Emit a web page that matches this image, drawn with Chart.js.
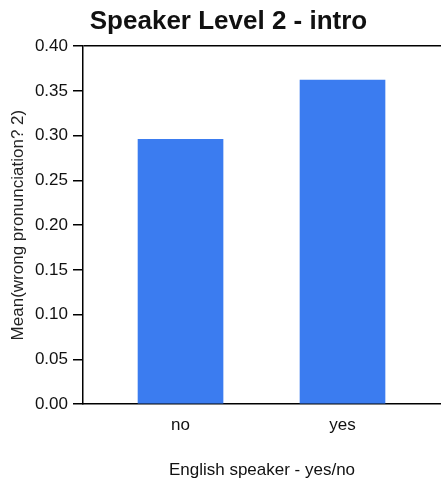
<!DOCTYPE html>
<html>
<head>
<meta charset="utf-8">
<script src="https://cdn.jsdelivr.net/npm/chart.js@4/dist/chart.umd.min.js"></script>
<style>
  html, body { margin: 0; padding: 0; background: #fff; }
  #wrap { width: 441px; height: 485px; }
</style>
</head>
<body>
<div id="wrap"><canvas id="c" width="441" height="485"></canvas></div>
<script>
const chartTitle = 'Speaker Level 2 - intro';
const categories = ['no', 'yes'];
const meanValues = [0.296, 0.362];
const yTickValues = [0.00, 0.05, 0.10, 0.15, 0.20, 0.25, 0.30, 0.35, 0.40];
const xAxisTitle = 'English speaker - yes/no';
const yAxisTitle = 'Mean(wrong pronunciation? 2)';

const FONT = "'Liberation Sans', Arial, Helvetica, sans-serif";

new Chart(document.getElementById('c'), {
  type: 'bar',
  data: {
    datasets: [{
      data: categories.map((c, i) => ({ x: i, y: meanValues[i] })),
      backgroundColor: '#3b7cf0',
      borderWidth: 0,
      barThickness: 85,
      maxBarThickness: 85
    }]
  },
  options: {
    responsive: false,
    animation: false,
    layout: { padding: { left: 16, right: 0, top: 0, bottom: 0 } },
    plugins: {
      legend: { display: false },
      tooltip: { enabled: false },
      title: {
        display: true,
        text: chartTitle,
        color: '#111',
        font: { family: FONT, size: 26, weight: 'bold' },
        padding: { top: 6, bottom: 9 }
      }
    },
    scales: {
      x: {
        type: 'linear',
        offset: false,
        min: -0.602,
        max: 1.608,
        afterBuildTicks: s => { s.ticks = categories.map((c, i) => ({ value: i })); },
        afterFit: s => { s.height = 81; },
        ticks: {
          callback: v => categories[v],
          color: '#111',
          font: { family: FONT, size: 17 },
          padding: 11,
          autoSkip: false,
          maxRotation: 0
        },
        grid: { display: true, offset: false, drawTicks: false, color: 'rgba(0,0,0,0)' },
        border: { display: true, color: '#000', width: 1.5 },
        title: {
          display: true,
          text: xAxisTitle,
          color: '#111',
          font: { family: FONT, size: 17 },
          padding: { top: 0, bottom: 4 }
        }
      },
      y: {
        min: 0,
        max: 0.4,
        afterBuildTicks: s => { s.ticks = yTickValues.map(v => ({ value: v })); },
        afterFit: s => { s.width = 67; },
        ticks: {
          callback: v => Number(v).toFixed(2),
          color: '#111',
          font: { family: FONT, size: 17 },
          padding: 5
        },
        grid: {
          display: true,
          drawOnChartArea: true,
          tickLength: 10,
          tickColor: '#000',
          lineWidth: 1.5,
          color: ctx => (ctx.tick && Math.abs(ctx.tick.value - 0.4) < 1e-9) ? '#000' : 'rgba(0,0,0,0)'
        },
        border: { display: true, color: '#000', width: 1.5 },
        title: {
          display: true,
          text: yAxisTitle,
          color: '#222',
          font: { family: FONT, size: 17 },
          padding: { top: -8, bottom: 0 }
        }
      }
    }
  }
});
</script>
</body>
</html>
